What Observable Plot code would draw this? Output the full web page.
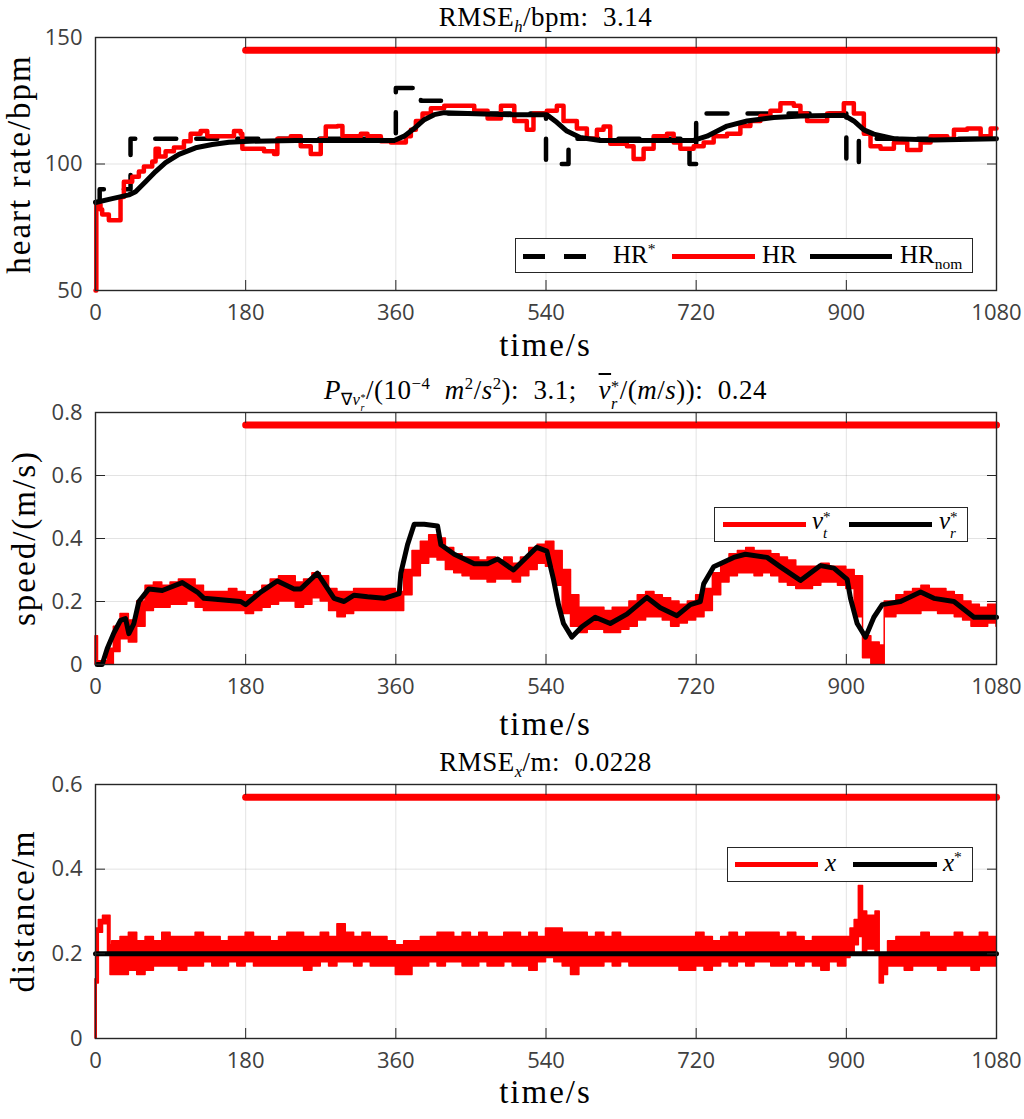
<!DOCTYPE html>
<html><head><meta charset="utf-8">
<script src="https://cdn.jsdelivr.net/npm/d3@7"></script>
<script src="https://cdn.jsdelivr.net/npm/@observablehq/plot@0.6"></script>
<style>
body{margin:0;background:#fff;}
#root{position:relative;width:1024px;height:1119px;overflow:hidden;font-family:"Liberation Serif","Times New Roman",serif;color:#000;}
.title{position:absolute;left:95px;width:901px;text-align:center;font-family:"Liberation Serif",serif;font-size:27px;letter-spacing:0.5px;white-space:nowrap;line-height:1;}
.xlab{position:absolute;left:95px;width:901px;text-align:center;font-family:"Liberation Serif",serif;font-size:33px;letter-spacing:2px;white-space:nowrap;line-height:1;}
.ylab{position:absolute;font-family:"Liberation Serif",serif;font-size:33px;letter-spacing:2px;white-space:nowrap;line-height:1;transform:translate(-50%,-50%) rotate(-90deg);}
.legbox{position:absolute;border:1.5px solid #262626;background:#fff;box-sizing:border-box;}
.legtxt{position:absolute;font-family:"Liberation Serif",serif;font-size:25px;line-height:1;white-space:nowrap;}
.legline{position:absolute;height:5px;}
sup,sub{font-size:0.62em;line-height:0;}
.ss{display:inline-block;vertical-align:-0.6em;font-size:0.6em;line-height:1.05;text-align:left;}
.ss>span{display:block;}
</style>
</head><body><div id="root"></div>
<script>
// ---------------- data ----------------
const xTicks = [0, 180, 360, 540, 720, 900, 1080];
const hrTicks = [50, 100, 150];
const speedTicks = [0, 0.2, 0.4, 0.6, 0.8];
const distTicks = [0, 0.2, 0.4, 0.6];
const barStart = 180, barEnd = 1080;
const barLevels = [145, 0.76, 0.57];

// HR* target (dashed black), [time, bpm]
const hrStar = [[0,85],[5,90],[42,110],[360,130],[390,125],[420,120],[540,100],[567,110],[712,100],[720,120],[900,100],[915,110],[1080,110]];
// HR measured (red), [time, bpm]
const hr = [[0,50],[1,84],[6,82],[8,80],[16,77.8],[30,87],[34,93],[44,95],[52,97],[58,99],[68,101],[72,106],[76,103],[84,105],[94,106.5],[106,109],[114,112],[126,113],[134,111],[146,111],[158,111],[166,113],[174,112],[176,106],[190,106],[202,105],[214,104],[218,110],[234,111],[246,107],[258,104],[270,110],[276,114.8],[290,115],[296,111],[306,111],[318,112],[326,111],[342,109],[354,108.5],[366,108.5],[372,111],[378,113.5],[384,117],[392,120],[402,122],[418,123],[438,123],[454,121],[470,118],[486,123],[502,117],[517,113.5],[525,120],[541,121],[553,123],[561,117],[577,114],[589,110],[601,113.5],[609,114.8],[617,108],[637,107],[645,102],[657,106],[669,111],[685,112],[693,108.5],[701,106],[717,107],[729,108.5],[741,111],[757,112],[773,115],[785,117],[797,119],[809,121],[821,124],[837,123],[845,120],[853,117],[869,117],[877,120],[889,120],[897,124],[909,120],[921,112],[929,107],[941,106],[957,108.5],[973,105.5],[989,108.5],[1001,111],[1021,110],[1029,113.5],[1045,114],[1061,111],[1073,114],[1080,114]];
// HR nominal (black), [time, bpm]
const hrNom = [[0,84.8],[20,86.3],[40,87.8],[48,89],[60,93],[72,97],[84,100.5],[100,103.8],[120,106.4],[140,107.7],[160,108.6],[184,109],[240,109.3],[358,109.3],[370,111],[382,114],[394,117.5],[406,119.5],[418,120.3],[446,120],[498,119.5],[541,119.5],[553,116.5],[565,113],[581,110.5],[605,109.3],[717,109.3],[733,111],[757,115],[781,117],[813,118.4],[845,119],[897,119.3],[909,117],[921,113.5],[933,111.8],[957,110],[1005,109.5],[1080,110]];

// v_t* (red band), [time, low, high] in m/s
const vtBand = [[0,0,0.09],[3,0,0.01],[15,0,0.05],[22,0.04,0.12],[30,0.08,0.16],[40,0.07,0.14],[50,0.12,0.2],[60,0.17,0.25],[70,0.18,0.26],[80,0.18,0.25],[90,0.19,0.26],[100,0.19,0.27],[110,0.2,0.27],[120,0.18,0.25],[130,0.17,0.23],[140,0.17,0.23],[150,0.17,0.23],[160,0.17,0.24],[170,0.17,0.23],[180,0.16,0.22],[190,0.17,0.23],[200,0.18,0.25],[210,0.19,0.27],[220,0.2,0.28],[230,0.2,0.28],[240,0.18,0.26],[250,0.19,0.27],[260,0.21,0.29],[270,0.2,0.28],[280,0.17,0.24],[290,0.15,0.23],[300,0.16,0.23],[310,0.17,0.24],[320,0.17,0.24],[330,0.17,0.24],[340,0.17,0.24],[350,0.17,0.24],[360,0.17,0.23],[370,0.22,0.3],[380,0.28,0.36],[390,0.32,0.39],[400,0.34,0.41],[410,0.33,0.4],[420,0.3,0.37],[430,0.29,0.35],[440,0.28,0.34],[450,0.27,0.34],[460,0.27,0.33],[470,0.26,0.34],[480,0.27,0.33],[490,0.27,0.34],[500,0.26,0.32],[510,0.28,0.34],[520,0.3,0.37],[530,0.32,0.38],[540,0.31,0.39],[550,0.25,0.36],[560,0.16,0.3],[570,0.12,0.22],[580,0.1,0.18],[590,0.11,0.18],[600,0.11,0.18],[610,0.1,0.17],[620,0.1,0.18],[630,0.11,0.18],[640,0.12,0.2],[650,0.14,0.22],[660,0.15,0.23],[670,0.15,0.22],[680,0.14,0.21],[690,0.12,0.2],[700,0.13,0.19],[710,0.14,0.2],[720,0.15,0.22],[730,0.17,0.24],[740,0.22,0.29],[750,0.26,0.32],[760,0.28,0.35],[770,0.29,0.36],[780,0.29,0.37],[790,0.28,0.36],[800,0.29,0.36],[810,0.28,0.35],[820,0.26,0.34],[830,0.25,0.33],[840,0.24,0.31],[850,0.24,0.31],[860,0.25,0.31],[870,0.26,0.32],[880,0.26,0.31],[890,0.25,0.31],[900,0.24,0.3],[910,0.15,0.28],[920,0.02,0.09],[930,0,0.07],[940,0,0.06],[946,0.15,0.2],[950,0.15,0.2],[960,0.16,0.22],[970,0.16,0.23],[980,0.16,0.24],[990,0.17,0.25],[1000,0.17,0.24],[1010,0.16,0.24],[1020,0.16,0.23],[1030,0.15,0.22],[1040,0.14,0.2],[1050,0.12,0.19],[1060,0.12,0.18],[1070,0.13,0.19],[1080,0.12,0.18]];
// v_r* (black), [time, m/s]
const vrStar = [[2,0],[8,0],[14,0.05],[22,0.1],[30,0.14],[36,0.146],[40,0.098],[46,0.13],[52,0.2],[64,0.24],[80,0.235],[104,0.26],[122,0.23],[130,0.21],[174,0.2],[180,0.19],[198,0.23],[218,0.265],[238,0.24],[246,0.24],[266,0.29],[286,0.21],[298,0.2],[310,0.22],[326,0.215],[346,0.21],[364,0.225],[366,0.29],[374,0.38],[382,0.445],[394,0.445],[410,0.44],[414,0.38],[430,0.35],[454,0.32],[470,0.32],[482,0.335],[501,0.3],[529,0.372],[541,0.36],[549,0.27],[555,0.19],[561,0.13],[571,0.087],[583,0.12],[599,0.15],[617,0.13],[637,0.16],[661,0.213],[677,0.18],[697,0.155],[713,0.19],[725,0.2],[729,0.256],[741,0.31],[765,0.34],[779,0.35],[805,0.34],[821,0.31],[845,0.267],[869,0.314],[885,0.306],[901,0.27],[905,0.21],[913,0.13],[923,0.087],[933,0.15],[943,0.19],[965,0.2],[989,0.23],[1005,0.21],[1029,0.2],[1053,0.15],[1080,0.15]];

// x (red band), [time, low, high] in m
const xBand = [[0,0,0.14],[1.5,0.13,0.26],[4,0.25,0.28],[9,0.27,0.29],[15,0.2,0.29],[18,0.15,0.22],[20,0.15,0.23],[30,0.15,0.24],[40,0.16,0.25],[50,0.15,0.23],[60,0.16,0.24],[70,0.17,0.23],[80,0.17,0.25],[90,0.17,0.24],[100,0.16,0.24],[110,0.17,0.24],[120,0.17,0.25],[130,0.18,0.24],[140,0.17,0.24],[150,0.17,0.23],[160,0.18,0.24],[170,0.17,0.24],[180,0.18,0.25],[190,0.17,0.24],[200,0.17,0.24],[210,0.17,0.23],[220,0.17,0.24],[230,0.17,0.25],[240,0.17,0.25],[250,0.16,0.24],[260,0.17,0.24],[270,0.18,0.25],[280,0.17,0.24],[290,0.18,0.27],[300,0.18,0.25],[310,0.17,0.24],[320,0.18,0.25],[330,0.17,0.24],[340,0.17,0.24],[350,0.17,0.23],[360,0.15,0.22],[370,0.15,0.23],[380,0.17,0.23],[390,0.17,0.24],[400,0.18,0.24],[410,0.17,0.25],[420,0.18,0.25],[430,0.18,0.24],[440,0.17,0.25],[450,0.17,0.24],[460,0.18,0.25],[470,0.17,0.24],[480,0.17,0.24],[490,0.18,0.25],[500,0.17,0.25],[510,0.17,0.24],[520,0.16,0.25],[530,0.18,0.24],[540,0.19,0.26],[550,0.18,0.26],[560,0.17,0.25],[570,0.15,0.25],[580,0.17,0.25],[590,0.17,0.24],[600,0.17,0.25],[610,0.18,0.24],[620,0.17,0.25],[630,0.18,0.24],[640,0.17,0.24],[650,0.17,0.24],[660,0.17,0.24],[670,0.17,0.24],[680,0.17,0.24],[690,0.17,0.24],[700,0.16,0.24],[710,0.16,0.24],[720,0.17,0.25],[730,0.16,0.24],[740,0.17,0.23],[750,0.18,0.24],[760,0.17,0.25],[770,0.18,0.24],[780,0.17,0.25],[790,0.18,0.25],[800,0.18,0.25],[810,0.17,0.25],[820,0.17,0.24],[830,0.18,0.25],[840,0.17,0.24],[850,0.18,0.23],[860,0.17,0.24],[870,0.16,0.24],[880,0.18,0.24],[890,0.17,0.24],[900,0.19,0.24],[905,0.2,0.26],[910,0.22,0.28],[915,0.24,0.36],[920,0.2,0.3],[925,0.21,0.29],[930,0.21,0.29],[935,0.2,0.3],[940,0.13,0.2],[945,0.15,0.2],[950,0.17,0.23],[960,0.17,0.24],[970,0.16,0.24],[980,0.17,0.24],[990,0.17,0.25],[1000,0.17,0.24],[1010,0.16,0.24],[1020,0.17,0.24],[1030,0.17,0.25],[1040,0.17,0.24],[1050,0.16,0.24],[1060,0.17,0.25],[1070,0.17,0.24],[1080,0.17,0.24]];
// x* (black), [time, m]
const xStar = [[0,0.2],[1080,0.2]];

// ---------------- drawing ----------------
const RED = "#ff0000", INK = "#262626", TICKTXT = "#404040";
const root = document.getElementById("root");
const fmt = d => `${d}`;
const X = d => d[0], Y = d => d[1];
const tickFont = {fontFamily: '"Open Sans", sans-serif', fontSize: 22};

function barMarks(level){
  return Plot.line([[barStart, level],[barEnd, level]], {x: X, y: Y, stroke: RED, strokeWidth: 7});
}

function panel(top, plotH, yDomain, yTicks, marks){
  const mt = 10, mb = 62;
  const svg = Plot.plot({
    width: 1024, height: mt + plotH + mb,
    marginLeft: 95, marginRight: 28, marginTop: mt, marginBottom: mb,
    x: {domain: [0, 1080], label: null},
    y: {domain: yDomain, label: null},
    style: {fontFamily: '"Open Sans", sans-serif', fontSize: "22px", color: INK, background: "transparent", overflow: "visible"},
    marks: [
      Plot.gridX(xTicks, {stroke: INK, strokeOpacity: 0.13, strokeWidth: 1}),
      Plot.gridY(yTicks, {stroke: INK, strokeOpacity: 0.13, strokeWidth: 1}),
      ...marks,
      Plot.frame({stroke: INK, strokeWidth: 1.4}),
      Plot.axisX(xTicks, {anchor: "bottom", tickSize: -10, tickPadding: 24, tickFormat: fmt, label: null, stroke: INK, fill: TICKTXT, ...tickFont}),
      Plot.axisX(xTicks, {anchor: "top", tickSize: -10, fill: "none", label: null, stroke: INK}),
      Plot.axisY(yTicks, {anchor: "left", tickSize: -10, tickPadding: 23, tickFormat: fmt, label: null, stroke: INK, fill: TICKTXT, ...tickFont}),
      Plot.axisY(yTicks, {anchor: "right", tickSize: -10, fill: "none", label: null, stroke: INK})
    ]
  });
  svg.style.position = "absolute";
  svg.style.left = "0px";
  svg.style.top = (top - mt) + "px";
  root.appendChild(svg);
}

// Panel 1: heart rate
panel(37, 253, [50, 150], hrTicks, [
  barMarks(barLevels[0]),
  Plot.line(hrStar, {x: X, y: Y, curve: "step-after", stroke: "#000", strokeWidth: 4.5, strokeDasharray: "21,20"}),
  Plot.line(hr, {x: X, y: Y, curve: "step-after", stroke: RED, strokeWidth: 4.5}),
  Plot.line(hrNom, {x: X, y: Y, stroke: "#000", strokeWidth: 5})
]);

// Panel 2: speed
panel(412, 252, [0, 0.8], speedTicks, [
  barMarks(barLevels[1]),
  Plot.areaY(vtBand, {x: X, y1: d => d[1], y2: d => d[2], curve: "step-after", fill: RED, stroke: RED, strokeWidth: 1.5}),
  Plot.line(vrStar, {x: X, y: Y, stroke: "#000", strokeWidth: 5})
]);

// Panel 3: distance
panel(784, 254, [0, 0.6], distTicks, [
  barMarks(barLevels[2]),
  Plot.areaY(xBand, {x: X, y1: d => d[1], y2: d => d[2], curve: "step-after", fill: RED, stroke: RED, strokeWidth: 1.5}),
  Plot.line(xStar, {x: X, y: Y, stroke: "#000", strokeWidth: 5})
]);

// ---------------- text ----------------
function add(cls, css, html){
  const e = document.createElement("div");
  e.className = cls;
  Object.assign(e.style, css);
  e.innerHTML = html;
  root.appendChild(e);
  return e;
}
// titles
add("title", {top: "4px"}, 'RMSE<sub><i>h</i></sub>/bpm:&nbsp; 3.14');
add("title", {top: "377px"}, '<i>P</i><sub>∇<i>v</i><span class="ss"><span>*</span><span><i>r</i></span></span></sub>/(10<sup>−4</sup>&nbsp; <i>m</i><sup>2</sup>/<i>s</i><sup>2</sup>):&nbsp; 3.1;&nbsp;&nbsp; <span style="text-decoration:overline"><i>v</i><span class="ss"><span>*</span><span><i>r</i></span></span></span>/(<i>m</i>/<i>s</i>)):&nbsp; 0.24');
add("title", {top: "749px"}, 'RMSE<sub><i>x</i></sub>/m:&nbsp; 0.0228');
// x labels
add("xlab", {top: "329px"}, 'time/s');
add("xlab", {top: "708px"}, 'time/s');
add("xlab", {top: "1076px"}, 'time/s');
// y labels
add("ylab", {left: "19px", top: "164px"}, 'heart rate/bpm');
add("ylab", {left: "24px", top: "538px"}, 'speed/(m/s)');
add("ylab", {left: "23px", top: "911px"}, 'distance/m');

// legends
function box(l, t, w, h){ add("legbox", {left: l+"px", top: t+"px", width: w+"px", height: h+"px"}, ""); }
function seg(l, w, y, c){ add("legline", {left: l+"px", top: (y-2.5)+"px", width: w+"px", background: c}, ""); }
function txt(l, t, html){ add("legtxt", {left: l+"px", top: t+"px"}, html); }

box(515, 238, 458, 35);
seg(523, 22, 256, "#000"); seg(564, 22, 256, "#000");
txt(613, 242, 'HR<sup>*</sup>');
seg(672, 83, 256, RED);
txt(762, 242, 'HR');
seg(810, 82, 256, "#000");
txt(900, 242, 'HR<sub>nom</sub>');

box(714, 507, 254, 35);
seg(723, 83, 524, RED);
txt(812, 508, '<i>v</i><span class="ss"><span>*</span><span><i>t</i></span></span>');
seg(849, 83, 524, "#000");
txt(939, 508, '<i>v</i><span class="ss"><span>*</span><span><i>r</i></span></span>');

box(727, 847, 246, 35);
seg(735, 83, 864, RED);
txt(825, 850, '<i>x</i>');
seg(853, 84, 864, "#000");
txt(943, 850, '<i>x</i><sup>*</sup>');
</script>
</body></html>
